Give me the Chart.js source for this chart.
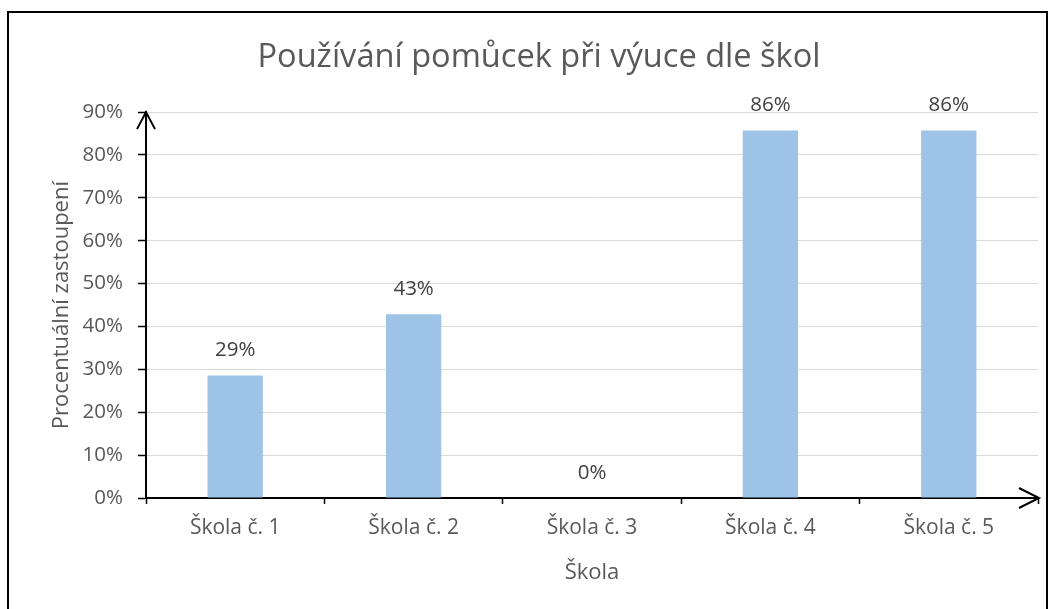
<!DOCTYPE html>
<html>
<head>
<meta charset="utf-8">
<script src="https://cdn.jsdelivr.net/npm/chart.js@4"></script>
<style>
  html, body { margin: 0; padding: 0; background: #fff; }
  #wrap { position: relative; width: 1056px; height: 609px; overflow: hidden; }
  #frame { position: absolute; left: 7px; top: 11px; width: 1041px; height: 640px; border: 2px solid #000; box-sizing: border-box; pointer-events: none; }
  canvas { position: absolute; left: 0; top: 0; }
</style>
</head>
<body>
<div id="wrap">
  <canvas id="chart" width="1056" height="609"></canvas>
  <div id="frame"></div>
</div>
<script>
const FONT = "'Open Sans', sans-serif";

const categories = ['Škola č. 1', 'Škola č. 2', 'Škola č. 3', 'Škola č. 4', 'Škola č. 5'];
const shares = [0.2857, 0.4286, 0, 0.8571, 0.8571];
const yTicks = [0, 0.1, 0.2, 0.3, 0.4, 0.5, 0.6, 0.7, 0.8, 0.9];

const pct = v => Math.round(v * 100) + '%';

// value labels above the bars
const barLabels = {
  id: 'barLabels',
  afterDatasetsDraw(chart) {
    const ctx = chart.ctx;
    const meta = chart.getDatasetMeta(0);
    ctx.save();
    ctx.font = '20.5px ' + FONT;
    ctx.fillStyle = '#404040';
    ctx.textAlign = 'center';
    ctx.textBaseline = 'middle';
    meta.data.forEach((bar, i) => {
      ctx.fillText(pct(shares[i]), bar.x, bar.y - 25);
    });
    ctx.restore();
  }
};

// arrow heads at the axis ends
const axisArrows = {
  id: 'axisArrows',
  afterDraw(chart) {
    const { left, right, top, bottom } = chart.chartArea;
    const ctx = chart.ctx;
    ctx.save();
    ctx.strokeStyle = '#000';
    ctx.lineWidth = 2;
    ctx.beginPath();
    ctx.moveTo(left - 9, top + 17);
    ctx.lineTo(left, top);
    ctx.lineTo(left + 9, top + 17);
    ctx.moveTo(right - 19, bottom - 10);
    ctx.lineTo(right + 1, bottom);
    ctx.lineTo(right - 19, bottom + 10);
    ctx.stroke();
    ctx.restore();
  }
};

new Chart(document.getElementById('chart'), {
  type: 'bar',
  data: {
    labels: categories,
    datasets: [{
      data: shares,
      backgroundColor: '#9dc3e6',
      categoryPercentage: 1,
      barPercentage: 0.31
    }]
  },
  options: {
    responsive: false,
    animation: false,
    events: [],
    layout: { padding: { left: 40, right: 18, top: 0, bottom: 0 } },
    plugins: {
      legend: { display: false },
      tooltip: { enabled: false },
      title: {
        display: true,
        text: 'Používání pomůcek při výuce dle škol',
        color: '#595959',
        font: { family: FONT, size: 32.6, weight: 'normal', lineHeight: 1.2 },
        padding: { top: 38, bottom: 35 }
      }
    },
    scales: {
      x: {
        grid: { display: true, drawOnChartArea: false, offset: true, tickLength: 6, tickColor: '#000', tickWidth: 1.5 },
        border: { color: '#000', width: 2 },
        ticks: { color: '#595959', font: { family: FONT, size: 21 }, padding: 11 },
        title: { display: true, text: 'Škola', color: '#595959', font: { family: FONT, size: 22, lineHeight: 1.2 }, padding: { top: 23, bottom: 23 } },
        afterFit(s) { s.height = 111; }
      },
      y: {
        min: 0,
        max: 0.9,
        afterBuildTicks(s) { s.ticks = yTicks.map(v => ({ value: v })); },
        grid: { color: '#d9d9d9', lineWidth: 1, tickLength: 8, tickColor: '#000', tickWidth: 1.5 },
        border: { color: '#000', width: 2 },
        ticks: { color: '#595959', font: { family: FONT, size: 20.5 }, padding: 15, callback: v => pct(v) },
        title: { display: true, text: 'Procentuální zastoupení', color: '#595959', font: { family: FONT, size: 22, lineHeight: 1.2 }, padding: { top: 9, bottom: 0 } },
        afterFit(s) { s.width = 106; }
      }
    }
  },
  plugins: [barLabels, axisArrows]
});
</script>
</body>
</html>
